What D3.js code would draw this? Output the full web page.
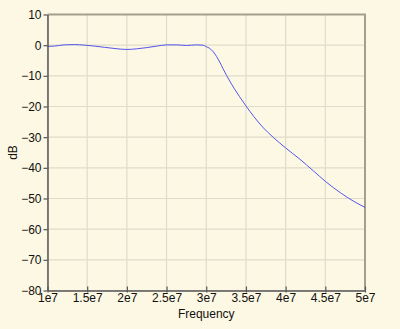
<!DOCTYPE html>
<html><head><meta charset="utf-8">
<script src="https://cdn.jsdelivr.net/npm/d3@7"></script>
<style>
html,body{margin:0;padding:0;background:#fdf8e3;}
svg{display:block;}
text{font-family:"Liberation Sans",Arial,Helvetica,sans-serif;}
</style></head>
<body>
<svg id="chart" width="400" height="329"></svg>
<script>
const freqs = [1.0e7,1.09e7,1.21e7,1.34e7,1.47e7,1.59e7,1.72e7,1.85e7,2.0e7,2.12e7,2.25e7,2.38e7,2.5e7,2.63e7,2.75e7,2.88e7,2.96e7,3.0e7,3.04e7,3.09e7,3.13e7,3.17e7,3.21e7,3.3e7,3.42e7,3.5e7,3.6e7,3.71e7,3.85e7,4.0e7,4.18e7,4.35e7,4.5e7,4.7e7,4.85e7,5.0e7];
const dB    = [-0.4,-0.3,0.1,0.2,0.0,-0.3,-0.7,-1.1,-1.4,-1.2,-0.8,-0.3,0.1,0.1,-0.1,0.1,0.0,-0.5,-1.0,-2.2,-3.7,-5.5,-7.6,-11.9,-16.8,-19.8,-23.3,-26.7,-30.2,-33.5,-37.2,-41.0,-44.4,-48.3,-50.8,-52.9];
const xTicks = [1e7,1.5e7,2e7,2.5e7,3e7,3.5e7,4e7,4.5e7,5e7];
const xTickLabels = ["1e7","1.5e7","2e7","2.5e7","3e7","3.5e7","4e7","4.5e7","5e7"];
const yTicks = [10,0,-10,-20,-30,-40,-50,-60,-70,-80];
const xLabel = "Frequency", yLabel = "dB";

const svg = d3.select("#chart");
const L=47.5, R=365, T=14.5, B=290.5;
const x = d3.scaleLinear().domain([1e7,5e7]).range([L,R]);
const y = d3.scaleLinear().domain([-80,10]).range([B,T]);

svg.append("rect").attr("width",400).attr("height",329).attr("fill","#fdf8e3");

// grid
const g = svg.append("g");
g.selectAll(".vg").data(xTicks).join("line")
  .attr("x1",d=>x(d)).attr("x2",d=>x(d)).attr("y1",T).attr("y2",B)
  .attr("stroke","#e0dccb").attr("stroke-width",1.2);
g.selectAll(".hg").data(yTicks).join("line")
  .attr("y1",d=>y(d)).attr("y2",d=>y(d)).attr("x1",L).attr("x2",R)
  .attr("stroke","#e0dccb").attr("stroke-width",1.2);

// top/right frame
svg.append("path").attr("d",`M${L},${T}H${R}V${B}`).attr("fill","none")
  .attr("stroke","#a49e8c").attr("stroke-width",2);

// curve
const line = d3.line().x((d,i)=>x(freqs[i])).y(d=>y(d)).curve(d3.curveMonotoneX);
svg.append("path").datum(dB).attr("d",line).attr("fill","none")
  .attr("stroke","#5555ee").attr("stroke-width",1);

// axes
const xAxis = d3.axisBottom(x).tickValues(xTicks).tickFormat((d,i)=>xTickLabels[i]).tickSizeInner(-4).tickSizeOuter(0).tickPadding(5);
const yAxis = d3.axisLeft(y).tickValues(yTicks).tickSizeInner(4).tickSizeOuter(0).tickPadding(2);
const xa = svg.append("g").attr("transform",`translate(0,${B})`).call(xAxis);
const ya = svg.append("g").attr("transform",`translate(${L},0)`).call(yAxis);
[xa,ya].forEach(a=>{
  a.select(".domain").attr("stroke","#555").attr("stroke-width",1.5);
  a.selectAll(".tick line").attr("stroke","#555").attr("stroke-width",1.2);
  a.selectAll("text").attr("fill","#111").attr("font-size",12)
    .style("font-family",'"Liberation Sans",Arial,sans-serif');
});
xa.selectAll(".tick").append("line").attr("y1",0).attr("y2",2).attr("stroke","#555").attr("stroke-width",1.2);
xa.selectAll("text").attr("y",2.5).attr("dy","0.71em");

svg.append("text").attr("x",(L+R)/2).attr("y",318).attr("text-anchor","middle")
  .attr("font-size",12).attr("fill","#111").text(xLabel);
svg.append("text").attr("transform",`translate(17,${(T+B)/2}) rotate(-90)`)
  .attr("text-anchor","middle").attr("font-size",12).attr("fill","#111").text(yLabel);
</script>
</body></html>
